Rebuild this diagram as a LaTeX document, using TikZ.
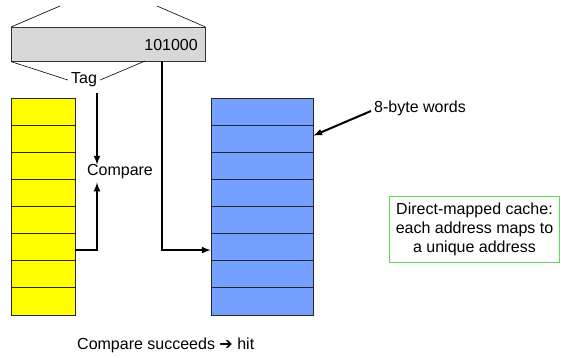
\documentclass[tikz,border=0pt]{standalone}
\usepackage{fontspec}
\setmainfont{Liberation Sans}
\newfontfamily\dingfont{DejaVu Sans}
\usetikzlibrary{positioning,arrows,calc}

\definecolor{addrgray}{RGB}{216,216,216}
\definecolor{tagyellow}{RGB}{255,255,0}
\definecolor{datablue}{RGB}{117,160,255}
\definecolor{notegreen}{RGB}{102,214,90}

\begin{document}
\begin{tikzpicture}
	[x=1pt,y=-1pt,>=latex,
	ycell/.style={rectangle,draw=black!85,semithick,fill=tagyellow,minimum width=64,minimum height=27.1,inner sep=0pt},
	bcell/.style={rectangle,draw=black!85,semithick,fill=datablue,minimum width=102,minimum height=27.1,inner sep=0pt},
	flow/.style={->,line width=2pt,draw=black},
	font=\fontsize{16}{19}\selectfont]
	\useasboundingbox (0,0) rectangle (561,357);
	\begin{scope}[every node/.style={inner sep=3pt}]
	%ADDRESS
	\node[rectangle,draw=black!80,semithick,fill=addrgray,minimum width=194,minimum height=34,anchor=north west,inner sep=0pt] (addr) at (11,27) {};
	\node[anchor=east] (bits) at (201,45) {101000};
	\coordinate (topl) at (60,6);
	\coordinate (topr) at (157,6);
	\draw[semithick] (addr.north west) -- (topl);
	\draw[semithick] (addr.north east) -- (topr);
	\node (tag) at (84,80) {Tag};
	\coordinate (tagr) at (145,61);
	\draw[semithick] (addr.south west) -- (tag.west);
	\draw[semithick] (tagr) -- (tag.east);
	%TAGS
	\foreach \i in {0,...,7}
	\node[ycell] (y\i) at (43,{111.55+27.1*\i}) {};
	%DATA
	\foreach \i in {0,...,7}
	\node[bcell] (b\i) at (262,{111.55+27.1*\i}) {};
	%COMPARE
	\node (cmp) at (120,172) {Compare};
	\coordinate (cmptop) at (97,93);
	\draw[flow] (cmptop) -- ([xshift=-23,yshift=-3]cmp.north);
	\draw[flow] ([yshift=-3]y5.east) -| ([xshift=-23]cmp.south);
	\coordinate (idx) at (162,61);
	\draw[flow] (idx) |- ([yshift=-3]b5.west);
	%LABELS
	\node (words) at (420,108) {8-byte words};
	\draw[flow] ([yshift=-3]words.west) -- ([yshift=3]b1.east);
	\node[rectangle,draw=notegreen,thin,minimum width=170,minimum height=66,align=center,inner sep=0pt] (note) at (474.5,229)
		{Direct-mapped cache:\\each address maps to\\a unique address};
	\node[anchor=west] (result) at (74,345) {Compare succeeds {\dingfont\bfseries ➔} hit};
	\end{scope}
\end{tikzpicture}
\end{document}
